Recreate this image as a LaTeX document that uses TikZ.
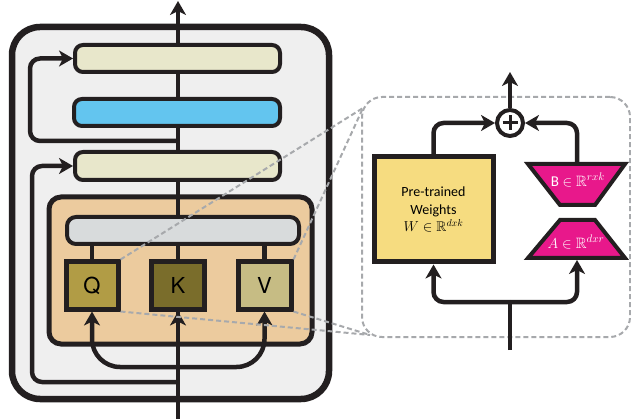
\documentclass[tikz,border=0pt]{standalone}
\usepackage{amssymb}
\usepackage{fontspec}
\newfontfamily\qkvfont{TeX Gyre Heros}
\newfontfamily\labelfont{Carlito}
\usetikzlibrary{arrows.meta,calc}

\definecolor{ink}{HTML}{231F20}
\definecolor{blockfill}{HTML}{EFEFEF}
\definecolor{normfill}{HTML}{E8E7CB}
\definecolor{ffnfill}{HTML}{63C5EF}
\definecolor{attnfill}{HTML}{ECCB9E}
\definecolor{projfill}{HTML}{D8DBDC}
\definecolor{qfill}{HTML}{B19C45}
\definecolor{kfill}{HTML}{7A6D2B}
\definecolor{vfill}{HTML}{C6BC84}
\definecolor{wfill}{HTML}{F6DC80}
\definecolor{lowrank}{HTML}{E8188B}
\definecolor{dashgray}{HTML}{A7A9AC}

\tikzset{
  barbox/.style={draw=ink, line width=4pt, rounded corners=8pt, inner sep=0pt},
  headbox/.style={draw=ink, line width=5pt, inner sep=0pt, minimum width=53pt,
    minimum height=47pt, font=\qkvfont\fontsize{22}{26}\selectfont},
  wire/.style={draw=ink, line width=4.5pt},
  arr/.style={wire, -{Stealth[length=14pt,width=16pt,inset=4pt]}},
  zoomline/.style={draw=dashgray, line width=2pt, dash pattern=on 5pt off 3pt},
  lowrankbox/.style={draw=ink, fill=lowrank, line width=4pt, line join=miter},
  lowranktext/.style={text=white, font=\labelfont\fontsize{15}{18}\selectfont, inner sep=0pt}
}

\begin{document}
\begin{tikzpicture}[x=1pt,y=-1pt]
\useasboundingbox (0,0) rectangle (631,419);

% transformer block
\node[draw=ink, fill=blockfill, line width=6.5pt, rounded corners=28pt,
      minimum width=317pt, minimum height=372pt] (block) at (170.5,213) {};

% attention sub-block
\node[draw=ink, fill=attnfill, line width=5pt, rounded corners=12pt,
      minimum width=263pt, minimum height=147pt] (attn) at (180.5,270.5) {};

% residual stream
\coordinate (in) at (178,419);
\coordinate (out) at (178,1);
\draw[arr] (in) -- (out);

% skip connections
\coordinate (r1) at (178,382);
\coordinate (r2) at (178,141);

% layer bars
\node[barbox, fill=normfill, minimum width=205pt, minimum height=27pt] (ln1) at (177.5,58.5) {};
\node[barbox, fill=ffnfill, minimum width=206pt, minimum height=27pt] (ffn) at (177,112.5) {};
\node[barbox, fill=normfill, minimum width=205pt, minimum height=28pt] (ln2) at (177.5,166) {};

\draw[arr, rounded corners=10pt] (r1) -| ($(ln2.west)+(-41,0)$) -- (ln2.west);
\draw[arr, rounded corners=10pt] (r2) -| ($(ln1.west)+(-43,0)$) -- (ln1.west);

% output projection
\node[barbox, fill=projfill, rounded corners=9pt, minimum width=232pt, minimum height=27pt] (proj) at (183,230.5) {};

% query / key / value heads
\node[headbox, fill=qfill, minimum width=52pt] (Q) at (92,285.5) {Q};
\node[headbox, fill=kfill] (K) at (178,285.5) {K};
\node[headbox, fill=vfill] (V) at (264.5,285.5) {V};

\draw[wire] (Q.north) -- (Q.north |- proj.south);
\draw[wire] (K.north) -- (K.north |- proj.south);
\draw[wire] (V.north) -- (V.north |- proj.south);

% inputs to the heads
\coordinate (split) at (178,367);
\draw[arr] (in) -- (K.south);
\draw[arr, rounded corners=28pt] (split) -| (Q.south);
\draw[arr, rounded corners=28pt] (split) -| (V.south);

% low-rank adaptation detail
\node[zoomline, rounded corners=20pt, minimum width=268pt, minimum height=240pt] (lora) at (496,217) {};

\node[draw=ink, fill=wfill, line width=5pt, minimum width=119pt, minimum height=105pt,
      inner sep=0pt, align=center, font=\labelfont\fontsize{14}{17.5}\selectfont]
      (W) at (433.5,209.5) {Pre-trained\\Weights\\$W \in \mathbb{R}^{dxk}$};

\draw[lowrankbox] (528,164) -- (625,164) -- (595,205) -- (560,205) -- cycle;
\draw[lowrankbox] (560,220) -- (595,220) -- (625,258) -- (528,258) -- cycle;
\node[lowranktext] (B) at (578,180) {B $\in \mathbb{R}^{rxk}$};
\node[lowranktext] (A) at (576,242) {$A \in \mathbb{R}^{dxr}$};
\coordinate (Btop) at (577,162);
\coordinate (Abot) at (577,260);

\node[circle, draw=ink, fill=white, line width=4pt, minimum size=26pt, inner sep=0pt] (plus) at (510,123) {};
\draw[ink, line width=3pt] ($(plus.center)+(-7.5,0)$) -- ($(plus.center)+(7.5,0)$);
\draw[ink, line width=3pt] ($(plus.center)+(0,-7.5)$) -- ($(plus.center)+(0,7.5)$);

\coordinate (sumout) at (510,72);
\draw[arr] (plus.north) -- (sumout);
\draw[arr, rounded corners=10pt] (W.north) |- (plus.west);
\draw[arr, rounded corners=10pt] (Btop) |- (plus.east);

\coordinate (xin) at (510,350);
\coordinate (fork) at (510,302);
\draw[wire] (xin) -- (fork);
\draw[arr, rounded corners=10pt] (fork) -| (W.south);
\draw[arr, rounded corners=10pt] (fork) -| (Abot);

% zoom guides
\coordinate (zt) at (363,108);
\coordinate (zb) at (370,335);
\draw[zoomline] (Q.north east) -- (zt);
\draw[zoomline] (V.north east) -- (zt);
\draw[zoomline] (Q.south east) -- (zb);
\draw[zoomline] (V.south east) -- (zb);
\end{tikzpicture}
\end{document}
